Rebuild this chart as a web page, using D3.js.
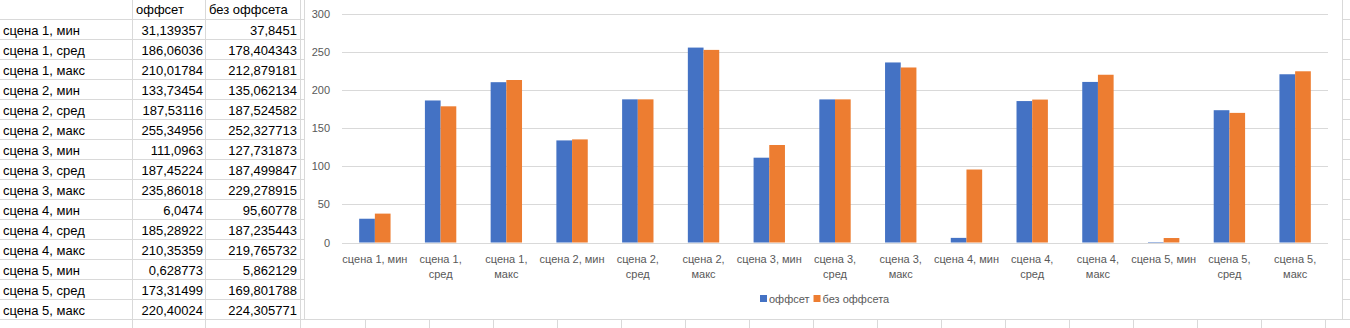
<!DOCTYPE html>
<html><head><meta charset="utf-8">
<script src="https://cdn.jsdelivr.net/npm/d3@7"></script>
<style>body{margin:0;background:#fff;overflow:hidden} svg{display:block}</style>
</head><body><svg id="c" width="1350" height="328"></svg>
<script>
const categories = ["сцена 1, мин","сцена 1, сред","сцена 1, макс","сцена 2, мин","сцена 2, сред","сцена 2, макс","сцена 3, мин","сцена 3, сред","сцена 3, макс","сцена 4, мин","сцена 4, сред","сцена 4, макс","сцена 5, мин","сцена 5, сред","сцена 5, макс"];
const offsetValues = [31.139357,186.06036,210.01784,133.73454,187.53116,255.34956,111.0963,187.45224,235.86018,6.0474,185.28922,210.35359,0.628773,173.31499,220.40024];
const noOffsetValues = [37.8451,178.404343,212.879181,135.062134,187.524582,252.327713,127.731873,187.499847,229.278915,95.60778,187.235443,219.765732,5.862129,169.801788,224.305771];
const seriesNames = ["оффсет","без оффсета"];
const seriesColors = ["#4472C4","#ED7D31"];
const yTicks = [0,50,100,150,200,250,300];

const svg = d3.select("#c");
const grid = "#d9d9d9";
const tableFont = "Liberation Sans, Arial, sans-serif";

// ---- spreadsheet table ----
const rowH = 20, row0 = 19.5;
const colEdges = [132.5, 205.5, 300.5];
const tbl = svg.append("g");
for (let i = 0; i <= 16; i++) {
  tbl.append("line").attr("x1",0).attr("x2",304).attr("y1",row0+i*rowH).attr("y2",row0+i*rowH).attr("stroke",grid);
}
colEdges.forEach(x => tbl.append("line").attr("x1",x).attr("x2",x).attr("y1",0).attr("y2",328).attr("stroke",grid));
// cells right of / below chart
for (let i = 0; i <= 16; i++) {
  tbl.append("line").attr("x1",1343).attr("x2",1350).attr("y1",row0+i*rowH).attr("y2",row0+i*rowH).attr("stroke",grid);
}
for (let x = 365.5; x < 1343; x += 64) {
  tbl.append("line").attr("x1",x).attr("x2",x).attr("y1",319).attr("y2",328).attr("stroke",grid);
}
tbl.append("line").attr("x1",304).attr("x2",1350).attr("y1",319.5).attr("y2",319.5).attr("stroke",grid);

const fmt = v => String(v).replace(".", ",");
const tt = tbl.append("g").attr("font-family",tableFont).attr("font-size",13).attr("fill","#000");
tt.append("text").attr("x",136).attr("y",14).text(seriesNames[0]);
tt.append("text").attr("x",209).attr("y",14).text(seriesNames[1]);
categories.forEach((c,i) => {
  const yb = row0 + i*rowH + 15;
  tt.append("text").attr("x",3).attr("y",yb).text(c);
  tt.append("text").attr("x",203).attr("y",yb).attr("text-anchor","end").text(fmt(offsetValues[i]));
  tt.append("text").attr("x",297).attr("y",yb).attr("text-anchor","end").text(fmt(noOffsetValues[i]));
});

// ---- chart ----
svg.append("rect").attr("x",304.5).attr("y",-2).attr("width",1038).attr("height",321.5)
  .attr("fill","#fff").attr("stroke",grid);

const plotL = 342, plotR = 1328, yTop = 13.5, yBot = 242.5;
const gap = 2.19;
const pad = 1 - 2/(2+gap);
const x = d3.scaleBand().domain(categories).range([plotL, plotR]).paddingInner(pad).paddingOuter(pad/2);
const xs = d3.scaleBand().domain(seriesNames).range([0, x.bandwidth()]);
const y = d3.scaleLinear().domain([0,300]).range([yBot, yTop]);

const chartFont = "Liberation Sans, Arial, sans-serif";
const yAxis = svg.append("g").attr("transform",`translate(${plotL},0)`)
  .call(d3.axisLeft(y).tickValues(yTicks).tickSize(-(plotR-plotL)).tickPadding(12));
yAxis.select(".domain").remove();
yAxis.selectAll(".tick line").attr("stroke",grid).attr("shape-rendering","crispEdges");
yAxis.selectAll(".tick text").attr("fill","#595959").attr("font-size",11).attr("font-family",chartFont);

const rows = categories.map((c,i) => ({c, vals:[offsetValues[i], noOffsetValues[i]]}));
const groups = svg.append("g").selectAll("g").data(rows).join("g")
  .attr("transform", d => `translate(${x(d.c)},0)`);
groups.selectAll("rect").data(d => d.vals.map((v,k) => ({k, v}))).join("rect")
  .attr("x", d => xs(seriesNames[d.k]))
  .attr("width", xs.bandwidth())
  .attr("y", d => y(d.v))
  .attr("height", d => yBot - y(d.v))
  .attr("fill", d => seriesColors[d.k]);

const xAxis = svg.append("g").attr("transform",`translate(0,${yBot})`)
  .call(d3.axisBottom(x).tickSize(0).tickPadding(0));
xAxis.select(".domain").remove();
xAxis.selectAll(".tick text").attr("fill","#595959").attr("font-size",11).attr("font-family",chartFont)
  .attr("dy",null).attr("y",20)
  .each(function(d){
    const t = d3.select(this);
    const w = this.getComputedTextLength();
    if (w > x.step()) {
      const parts = d.split(", ");
      t.text(null);
      t.append("tspan").attr("x",0).attr("y",20).text(parts[0] + ",");
      t.append("tspan").attr("x",0).attr("y",35).text(parts[1]);
    }
  });

// legend
const lg = svg.append("g").attr("font-family",chartFont).attr("font-size",11).attr("fill","#595959");
let lx = 760;
seriesNames.forEach((n,k) => {
  lg.append("rect").attr("x",lx).attr("y",295).attr("width",7).attr("height",7).attr("fill",seriesColors[k]);
  const t = lg.append("text").attr("x",lx+9).attr("y",303).text(n);
  lx += 9 + t.node().getComputedTextLength() + 4;
});
</script>
</body></html>
